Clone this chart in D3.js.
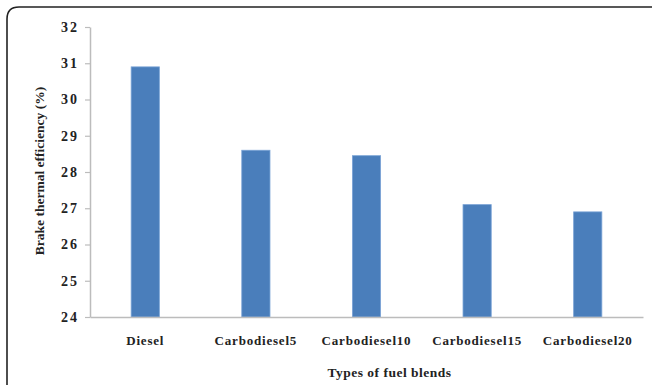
<!DOCTYPE html>
<html>
<head>
<meta charset="utf-8">
<script src="https://cdn.jsdelivr.net/npm/d3@7"></script>
<style>
  html, body { margin: 0; padding: 0; background: #fff; }
  svg { display: block; }
  text { font-family: "Liberation Serif", "Times New Roman", serif; font-weight: bold; fill: #222; }
</style>
</head>
<body>
<svg id="chart" width="652" height="385"></svg>
<script>
// Brake thermal efficiency by fuel blend
const categories = ["Diesel", "Carbodiesel5", "Carbodiesel10", "Carbodiesel15", "Carbodiesel20"];
const efficiency = [30.9, 28.6, 28.45, 27.1, 26.9];
const yTicks = [24, 25, 26, 27, 28, 29, 30, 31, 32];

const svg = d3.select("#chart");
const W = 652, H = 385;
const margin = { left: 90, right: 9, top: 27, bottom: 68 };
const plotW = W - margin.left - margin.right;
const plotH = H - margin.top - margin.bottom;

// Outer frame: top and left edges with rounded corner
svg.append("path")
  .attr("d", `M7,${H} L7,19 Q7,7 19,7 L${W},7`)
  .attr("fill", "none")
  .attr("stroke", "#222")
  .attr("stroke-width", 1.6);

const g = svg.append("g").attr("transform", `translate(${margin.left},${margin.top})`);

const x = d3.scaleBand().domain(categories).range([0, plotW]).paddingInner(0.745).paddingOuter(0.372);
const y = d3.scaleLinear().domain([24, 32]).range([plotH, 0]);

// Bars
g.selectAll("rect.bar")
  .data(categories.map((c, i) => ({ c, v: efficiency[i] })))
  .join("rect")
  .attr("class", "bar")
  .attr("x", d => x(d.c))
  .attr("y", d => y(d.v))
  .attr("width", x.bandwidth())
  .attr("height", d => plotH - y(d.v))
  .attr("fill", "#4a7ebb")
  .attr("stroke", "#7aa3d6")
  .attr("stroke-width", 0.8);

// Y axis
const yAxis = g.append("g")
  .call(d3.axisLeft(y).tickValues(yTicks).tickFormat(d3.format("d")).tickSize(5).tickSizeOuter(0));
yAxis.select(".domain").attr("stroke", "#bcbcbc").attr("stroke-width", 1.5);
yAxis.selectAll(".tick line").attr("stroke", "#bcbcbc").attr("stroke-width", 1.2);
yAxis.selectAll(".tick text")
  .attr("x", -11)
  .style("font-size", "14px")
  .style("letter-spacing", "2px")
  .style("font-family", "'Liberation Serif', serif")
  .style("font-weight", "bold")
  .attr("fill", "#222");

// X axis
const xAxis = g.append("g")
  .attr("transform", `translate(0,${plotH})`)
  .call(d3.axisBottom(x).tickSize(0).tickSizeOuter(0));
xAxis.select(".domain").attr("stroke", "#bcbcbc").attr("stroke-width", 1.5);
xAxis.selectAll(".tick text")
  .attr("dy", "1.05em")
  .attr("y", 14)
  .style("font-size", "13px")
  .style("letter-spacing", "0.8px")
  .style("font-family", "'Liberation Serif', serif")
  .style("font-weight", "bold")
  .attr("fill", "#222");

// Axis titles
svg.append("text")
  .attr("x", margin.left + plotW / 2 + 23)
  .attr("y", 377)
  .attr("text-anchor", "middle")
  .style("font-size", "13.5px")
  .style("letter-spacing", "0.5px")
  .text("Types of fuel blends");

svg.append("text")
  .attr("transform", `translate(44,171) rotate(-90)`)
  .attr("text-anchor", "middle")
  .style("font-size", "13.5px")
  .text("Brake thermal efficiency (%)");
</script>
</body>
</html>
